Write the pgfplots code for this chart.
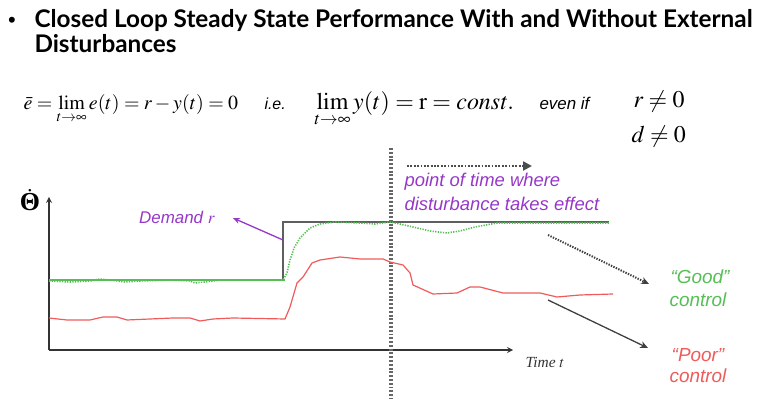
\documentclass[border=0pt]{standalone}
\usepackage{pgfplots}
\pgfplotsset{compat=1.18}
\usepackage{mathptmx}
\usepackage[no-math]{fontspec}
\setmainfont{Liberation Sans}
\newfontfamily\titlefont{Lato}
\newfontfamily\serifit{Liberation Serif}
\usetikzlibrary{arrows.meta}
\definecolor{purp}{RGB}{150,55,200}
\definecolor{goodg}{RGB}{85,190,85}
\definecolor{poorr}{RGB}{240,90,90}
\definecolor{demg}{RGB}{95,95,95}
\begin{document}
\begin{tikzpicture}[x=1bp,y=1bp]
\path (0,0) rectangle (762,398);
\begin{axis}[
  at={(49bp,48bp)}, anchor=south west,
  scale only axis, width=464bp, height=153bp,
  xmin=49, xmax=513, ymin=48, ymax=201,
  axis lines=left,
  axis line style={line width=1.6pt, draw=black!80},
  xtick=\empty, ytick=\empty, clip=false]
\addplot[black!60, line width=3.2pt, dash pattern=on 2pt off 1.8pt] coordinates {(391,250) (391,0)};
\addplot[demg, line width=1.2pt] coordinates {(49,118) (283,118) (283,176) (609,176)};
\addplot[goodg, line width=1.6pt] coordinates {(49,118) (285,118)};
\addplot[goodg, line width=1.6pt, dash pattern=on 1.3pt off 1.3pt] coordinates {
(49,117) (70,116) (90,117) (100,119) (110,118) (125,116) (140,117) (170,118) (190,117) (195,115) (205,116) (220,118) (250,118) (283,118)
(287,125) (290,138) (294,150) (300,160) (310,170) (320,174) (335,176) (360,175) (375,174) (390,176)
(400,174) (413,171) (430,167) (447,165) (460,167) (475,171) (497,175) (520,175) (560,175) (609,175)};
\addplot[poorr, line width=1.2pt] coordinates {
(49,80) (67,78) (90,78) (103,81) (117,81) (127,78) (150,79) (173,80) (190,80) (200,77) (213,79) (233,80) (285,79)
(290,91) (297,115) (303,121) (312,135) (320,138) (340,141) (360,139) (383,139) (390,136) (403,133) (410,125) (413,113)
(433,104) (457,105) (470,111) (480,111) (503,105) (540,105) (557,101) (580,103) (613,104)};
\end{axis}
\draw[black!70, line width=3pt, dash pattern=on 1.8pt off 1.6pt, -{Triangle[length=9pt,width=9pt]}] (407,232) -- (532,232);
\draw[purp, line width=1.3pt, -{Stealth[length=7pt,width=6pt]}] (283,158) -- (233,180);
\draw[black!75, line width=2pt, dash pattern=on 1.4pt off 1.3pt, -{Stealth[length=8pt,width=7pt]}] (548,163) -- (649,114);
\draw[black!75, line width=1.3pt, -{Stealth[length=8pt,width=7pt]}] (548,98) -- (648,50);
\node[anchor=west, purp, font=\fontsize{18.5}{20}\selectfont\itshape] at (401,216) {point of time where};
\node[anchor=west, purp, font=\fontsize{18.5}{20}\selectfont\itshape] at (401,194) {disturbance takes effect};
\node[purp, font=\fontsize{17}{19}\selectfont\itshape] at (177,181) {Demand $r$};
\node[goodg, font=\fontsize{19}{21}\selectfont\itshape] at (700,121) {“Good”};
\node[goodg, font=\fontsize{19}{21}\selectfont\itshape] at (698,98) {control};
\node[poorr, font=\fontsize{19}{21}\selectfont\itshape] at (698,43) {“Poor”};
\node[poorr, font=\fontsize{19}{21}\selectfont\itshape] at (698,22) {control};
\node[font=\fontsize{15.5}{17}\selectfont\serifit\itshape, black!80] at (545,36) {Time $t$};
\node[font=\fontsize{26}{28}\selectfont] at (30,198) {$\dot{\mbox{\serifit\bfseries Θ}}$};
\node[anchor=base, font=\fontsize{22}{24}\selectfont] at (12,370) {•};
\node[anchor=base west, font=\fontsize{24.4}{26}\selectfont\titlefont\bfseries] at (31,370) {Closed Loop Steady State Performance With and Without External};
\node[anchor=base west, font=\fontsize{24.4}{26}\selectfont\titlefont\bfseries] at (31,345) {Disturbances};
\node[anchor=base west, font=\fontsize{20}{22}\selectfont] at (20,288) {$\bar{e}=\lim\limits_{t\to\infty} e(t)=r-y(t)=0$};
\node[anchor=base west, font=\fontsize{16}{18}\selectfont\itshape] at (261,288) {i.e.};
\node[anchor=base west, font=\fontsize{24}{26}\selectfont] at (311,288) {$\lim\limits_{t\to\infty} y(t)=\mathrm{r}=\mathit{const}.$};
\node[anchor=base west, font=\fontsize{17}{19}\selectfont\itshape] at (536,288) {even if};
\node[anchor=base west, font=\fontsize{24}{26}\selectfont] at (630,290) {$r\neq 0$};
\node[anchor=base west, font=\fontsize{24}{26}\selectfont] at (628,255) {$d\neq 0$};
\end{tikzpicture}
\end{document}
